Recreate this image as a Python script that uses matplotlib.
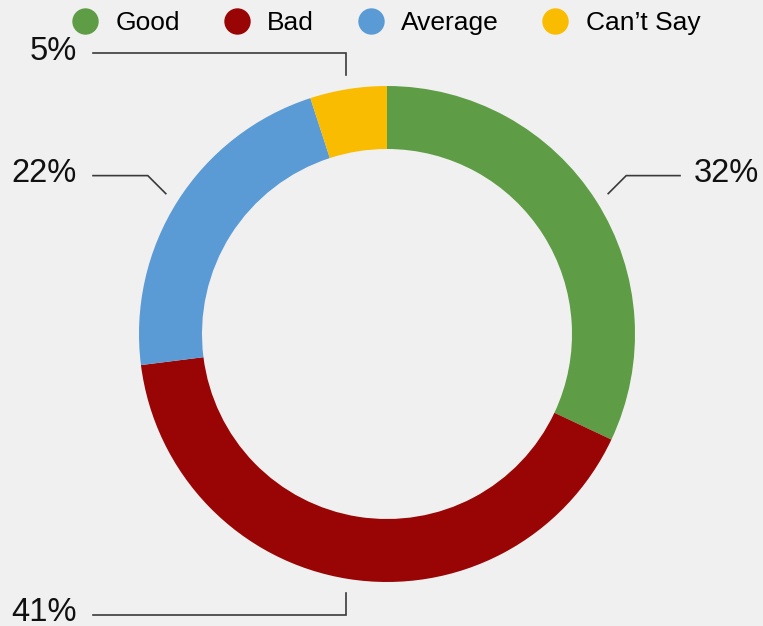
import matplotlib
matplotlib.use("Agg")
import matplotlib.pyplot as plt
from matplotlib.lines import Line2D
import numpy as np

labels = ["Good", "Bad", "Average", "Can\u2019t Say"]
values = [32, 41, 22, 5]
colors = ["#5e9d46", "#990505", "#5b9bd5", "#f9bc00"]

plt.rcParams["font.family"] = ["Liberation Sans", "DejaVu Sans"]

fig = plt.figure(figsize=(7.63, 6.26), dpi=100)
fig.patch.set_facecolor("#f0f0f0")
ax = fig.add_axes([0, 0, 1, 1])

cx, cy, R = 387, 292, 248
wedges, _ = ax.pie(values, colors=colors, startangle=90, counterclock=False,
                   center=(cx, cy), radius=R, frame=True,
                   wedgeprops=dict(width=63, linewidth=0))
ax.set_xlim(0, 763)
ax.set_ylim(0, 626)
ax.set_aspect("equal")
ax.axis("off")

# leader lines from the middle of each slice
for w, v in zip(wedges, values):
    mid = np.deg2rad((w.theta1 + w.theta2) / 2)
    c, s = np.cos(mid), np.sin(mid)
    x0, y0 = cx + 262 * c, cy + 262 * s
    if abs(c) < 0.3:
        x1, y1 = x0, y0 + 22 * np.sign(s)
    else:
        x1, y1 = x0 + 18 * np.sign(c), y0 + 18 * np.sign(s)
    if c < 0:
        x2 = 93
        tx, ha = x2 - 16, "right"
    else:
        x2 = 680
        tx, ha = x2 + 14, "left"
    ax.plot([x0, x1, x2], [y0, y1, y1], color="#3a3a3a", lw=1.2,
            solid_joinstyle="miter")
    ax.text(tx, y1 + 2, f"{v}%", ha=ha, va="center", fontsize=23.5,
            color="#111111")

handles = [Line2D([], [], marker="o", linestyle="", markersize=19,
                  markerfacecolor=col, markeredgewidth=0) for col in colors]
fig.legend(handles, labels, loc="center", bbox_to_anchor=(0.506, 0.963),
           ncol=4, frameon=False, fontsize=19, handletextpad=0.65,
           columnspacing=1.65, handlelength=1.0)

fig.savefig("out.png", dpi=100, facecolor=fig.get_facecolor())
